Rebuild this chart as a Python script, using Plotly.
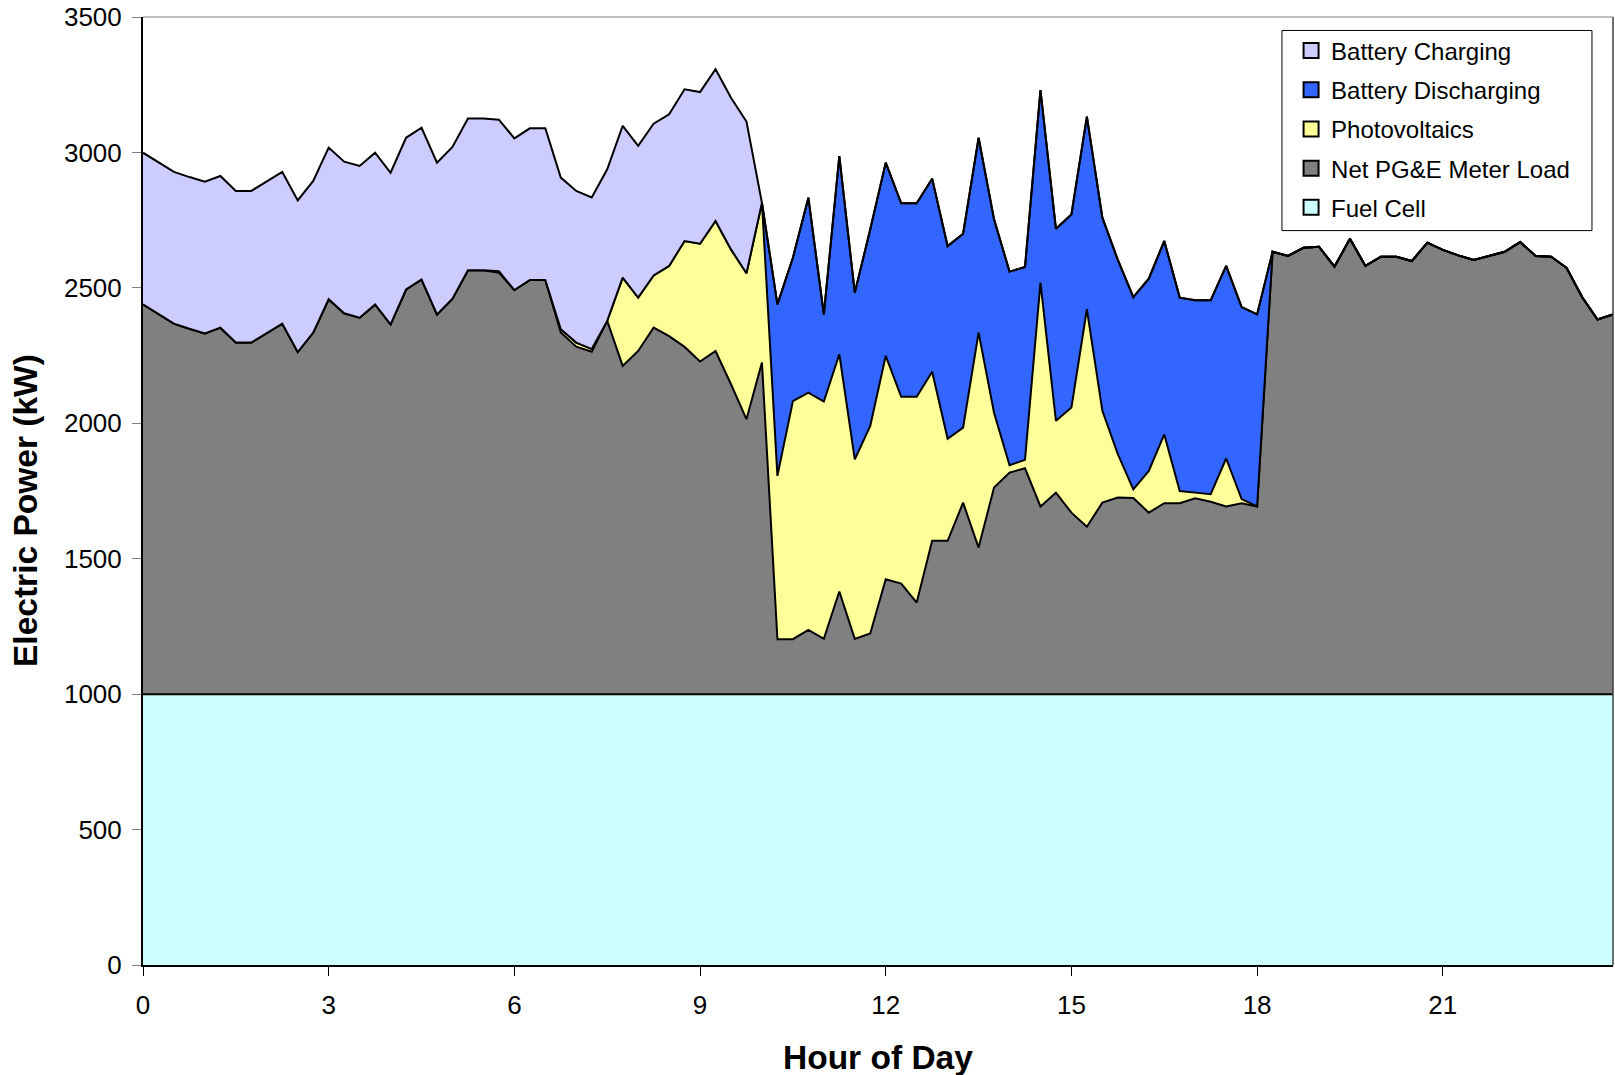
import plotly.graph_objects as go

hours = [0.0, 0.25, 0.5, 0.75, 1.0, 1.25, 1.5, 1.75, 2.0, 2.25, 2.5, 2.75,
         3.0, 3.25, 3.5, 3.75, 4.0, 4.25, 4.5, 4.75, 5.0, 5.25, 5.5, 5.75,
         6.0, 6.25, 6.5, 6.75, 7.0, 7.25, 7.5, 7.75, 8.0, 8.25, 8.5, 8.75,
         9.0, 9.25, 9.5, 9.75, 10.0, 10.25, 10.5, 10.75, 11.0, 11.25, 11.5, 11.75,
         12.0, 12.25, 12.5, 12.75, 13.0, 13.25, 13.5, 13.75, 14.0, 14.25, 14.5, 14.75,
         15.0, 15.25, 15.5, 15.75, 16.0, 16.25, 16.5, 16.75, 17.0, 17.25, 17.5, 17.75,
         18.0, 18.25, 18.5, 18.75, 19.0, 19.25, 19.5, 19.75, 20.0, 20.25, 20.5, 20.75,
         21.0, 21.25, 21.5, 21.75, 22.0, 22.25, 22.5, 22.75, 23.0, 23.25, 23.5, 23.75]

fuel_cell = [1000, 1000, 1000, 1000, 1000, 1000, 1000, 1000, 1000, 1000, 1000, 1000,
             1000, 1000, 1000, 1000, 1000, 1000, 1000, 1000, 1000, 1000, 1000, 1000,
             1000, 1000, 1000, 1000, 1000, 1000, 1000, 1000, 1000, 1000, 1000, 1000,
             1000, 1000, 1000, 1000, 1000, 1000, 1000, 1000, 1000, 1000, 1000, 1000,
             1000, 1000, 1000, 1000, 1000, 1000, 1000, 1000, 1000, 1000, 1000, 1000,
             1000, 1000, 1000, 1000, 1000, 1000, 1000, 1000, 1000, 1000, 1000, 1000,
             1000, 1000, 1000, 1000, 1000, 1000, 1000, 1000, 1000, 1000, 1000, 1000,
             1000, 1000, 1000, 1000, 1000, 1000, 1000, 1000, 1000, 1000, 1000, 1000]

net_load = [1439, 1403, 1368, 1349, 1332, 1353, 1298, 1298, 1332, 1368, 1263, 1335,
            1458, 1406, 1390, 1439, 1365, 1494, 1531, 1402, 1460, 1565, 1565, 1556,
            1492, 1529, 1529, 1335, 1283, 1264, 1378, 1212, 1267, 1353, 1322, 1282,
            1228, 1267, 1144, 1015, 1224, 203, 203, 237, 204, 379, 204, 224,
            424, 408, 338, 566, 566, 707, 541, 763, 818, 834, 693, 744,
            670, 618, 707, 726, 724, 670, 705, 705, 723, 710, 693, 705,
            693, 1633, 1618, 1648, 1652, 1578, 1681, 1581, 1615, 1615, 1599, 1667,
            1640, 1620, 1603, 1618, 1633, 1669, 1618, 1615, 1574, 1466, 1383, 1402]

photovoltaics = [0, 0, 0, 0, 0, 0, 0, 0, 0, 0, 0, 0,
                 0, 0, 0, 0, 0, 0, 0, 0, 0, 0, 0, 5,
                 0, 0, 0, 12, 15, 10, 0, 326, 197, 193, 259, 391,
                 435, 480, 498, 539, 590, 603, 879, 876, 876, 876, 663, 766,
                 825, 690, 760, 624, 377, 277, 794, 276, 27, 31, 826, 265,
                 388, 803, 339, 160, 32, 154, 254, 45, 21, 28, 177, 15,
                 0, 0, 0, 0, 0, 0, 0, 0, 0, 0, 0, 0,
                 0, 0, 0, 0, 0, 0, 0, 0, 0, 0, 0, 0]

battery_discharging = [0, 0, 0, 0, 0, 0, 0, 0, 0, 0, 0, 0,
                       0, 0, 0, 0, 0, 0, 0, 0, 0, 0, 0, 0,
                       0, 0, 0, 0, 0, 0, 0, 0, 0, 0, 0, 0,
                       0, 0, 0, 0, 0, 633, 529, 720, 322, 731, 615, 726,
                       713, 714, 714, 713, 711, 716, 719, 714, 715, 712, 711, 709,
                       713, 711, 713, 717, 710, 710, 714, 714, 710, 716, 711, 709,
                       709, 0, 0, 0, 0, 0, 0, 0, 0, 0, 0, 0,
                       0, 0, 0, 0, 0, 0, 0, 0, 0, 0, 0, 0]

battery_charging = [560, 560, 560, 560, 560, 560, 560, 560, 560, 560, 560, 560,
                    560, 560, 560, 560, 560, 560, 560, 560, 560, 560, 560, 560,
                    560, 560, 560, 560, 560, 560, 560, 560, 560, 560, 560, 560,
                    560, 560, 560, 560, 0, 0, 0, 0, 0, 0, 0, 0,
                    0, 0, 0, 0, 0, 0, 0, 0, 0, 0, 0, 0,
                    0, 0, 0, 0, 0, 0, 0, 0, 0, 0, 0, 0,
                    0, 0, 0, 0, 0, 0, 0, 0, 0, 0, 0, 0,
                    0, 0, 0, 0, 0, 0, 0, 0, 0, 0, 0, 0]

series_names = ["Fuel Cell", "Net PG&E Meter Load", "Photovoltaics",
                "Battery Discharging", "Battery Charging"]
series_values = [fuel_cell, net_load, photovoltaics, battery_discharging, battery_charging]
series_colors = ["#CCFFFF", "#808080", "#FFFF99", "#3366FF", "#CCCCFF"]
legend_ranks = [5, 4, 3, 2, 1]

x_ticks = [0, 3, 6, 9, 12, 15, 18, 21]
y_ticks = [0, 500, 1000, 1500, 2000, 2500, 3000, 3500]

FONT = "Liberation Sans, Arial, sans-serif"

fig = go.Figure()
for name, vals, col in zip(series_names, series_values, series_colors):
    fig.add_trace(go.Scatter(
        x=hours, y=vals, name=name, mode="lines", stackgroup="one",
        line=dict(color="black", width=2), fillcolor=col, showlegend=False,
        hoverinfo="x+y+name"))

for name, col, rk in zip(series_names, series_colors, legend_ranks):
    fig.add_trace(go.Scatter(
        x=[None], y=[None], name=name, mode="markers", legendrank=rk,
        legendgroup=name,
        marker=dict(symbol="square", size=15, color=col,
                    line=dict(color="black", width=2))))

fig.update_layout(
    width=1615, height=1075,
    margin=dict(l=143, r=2, t=17, b=110),
    paper_bgcolor="white", plot_bgcolor="white",
    font=dict(family=FONT, color="black", size=26),
    showlegend=True,
    legend=dict(x=0.781, y=0.9879, xanchor="left", yanchor="top",
                bgcolor="rgba(0,0,0,0)", borderwidth=0,
                font=dict(family=FONT, size=24, color="black"),
                traceorder="grouped", tracegroupgap=5, itemwidth=30),
    xaxis=dict(range=[0, 23.75], tickvals=x_ticks, ticktext=[str(t) for t in x_ticks],
               showgrid=False, zeroline=False, showline=True, linecolor="black",
               linewidth=2, ticks="outside", ticklen=9, tickcolor="black", tickwidth=1,
               ticklabelstandoff=7, tickfont=dict(size=26, family=FONT)),
    yaxis=dict(range=[0, 3500], tickvals=y_ticks, ticktext=[str(t) for t in y_ticks],
               showgrid=False, zeroline=False, showline=True, linecolor="black",
               linewidth=2, ticks="outside", ticklen=9, tickcolor="#808080", tickwidth=1,
               ticklabelstandoff=5, tickfont=dict(size=26, family=FONT)),
    shapes=[
        dict(type="line", xref="paper", yref="paper", x0=0, x1=1, y0=1, y1=1,
             line=dict(color="#808080", width=1)),
        dict(type="line", xref="paper", yref="paper", x0=1, x1=1, y0=0, y1=1,
             line=dict(color="#404040", width=1.5)),
        dict(type="rect", xref="paper", yref="paper", x0=0.7748, x1=0.9857,
             y0=0.7747, y1=0.9858, fillcolor="white", layer="above",
             line=dict(color="black", width=1)),
    ],
    annotations=[
        dict(text="<b>Hour of Day</b>", xref="paper", yref="paper", x=0.5, y=-0.0972,
             xanchor="center", yanchor="middle", showarrow=False,
             font=dict(size=33.5, family=FONT, color="black")),
        dict(text="<b>Electric Power (kW)</b>", xref="paper", yref="paper",
             x=-0.0801, y=0.4792, xanchor="center", yanchor="middle", showarrow=False,
             textangle=-90, font=dict(size=33.5, family=FONT, color="black")),
    ],
)

fig.write_html("out.html", config={"displayModeBar": False},
               post_script="document.body.style.margin='0px';")
